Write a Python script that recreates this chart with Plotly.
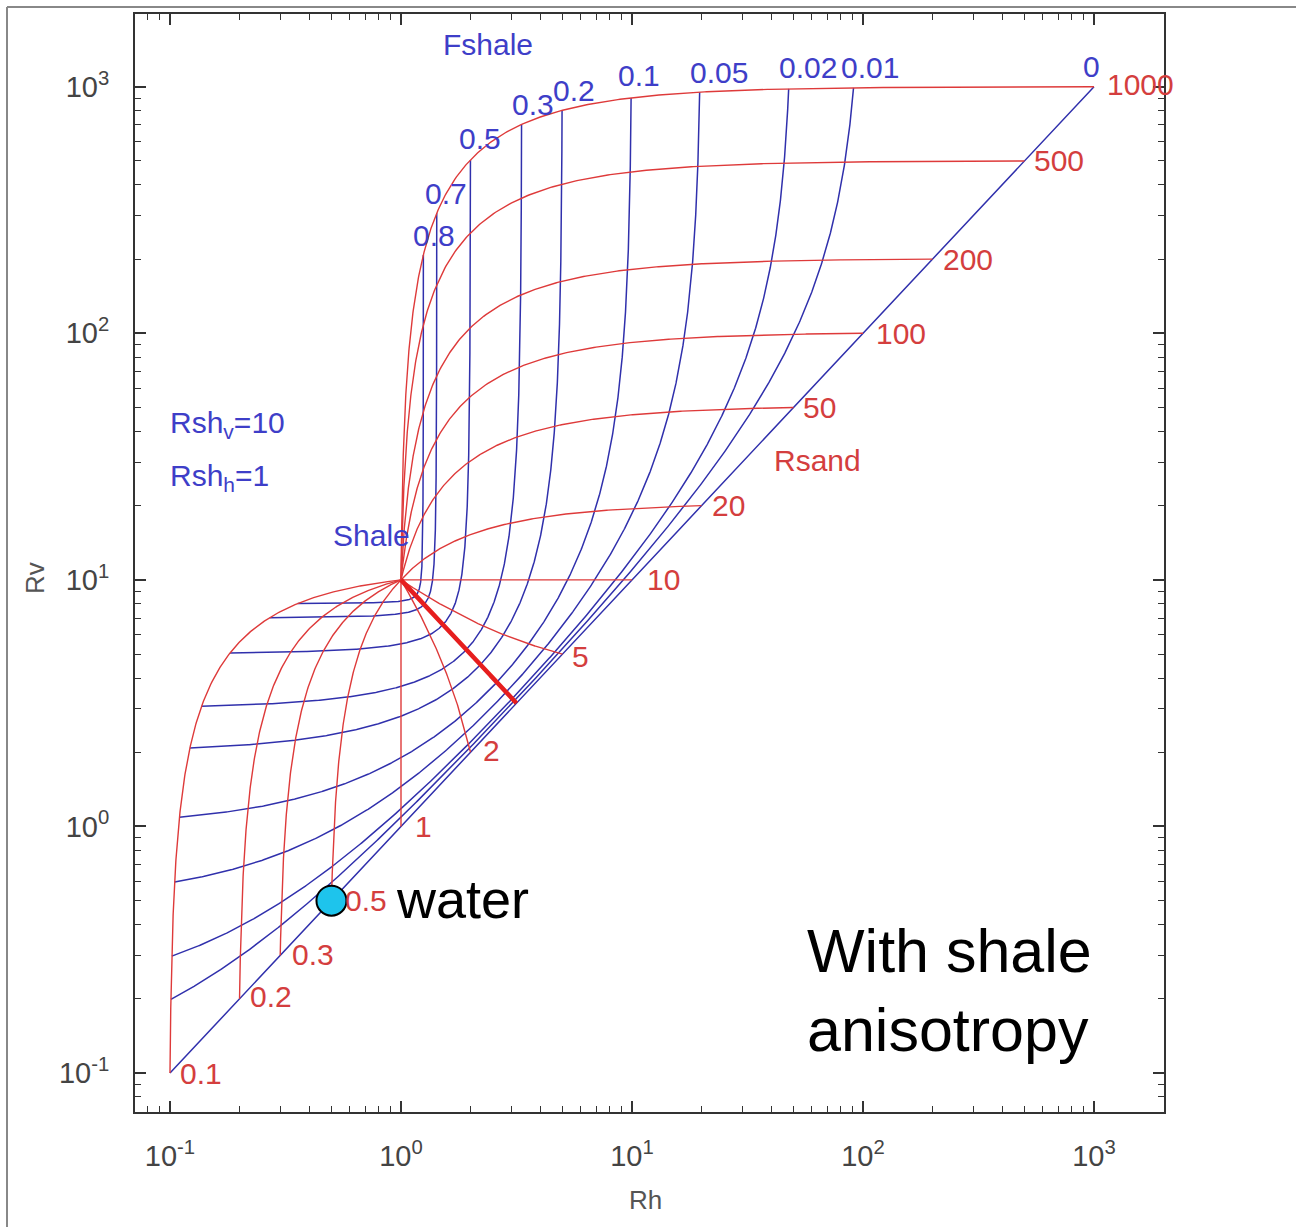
import numpy as np
import plotly.graph_objects as go

# ---------------- data (laminated sand/shale model parameters) ----------------
RSH_V = 10.0          # vertical shale resistivity
RSH_H = 1.0           # horizontal shale resistivity
FSHALE = [0, 0.01, 0.02, 0.05, 0.1, 0.2, 0.3, 0.5, 0.7, 0.8]
FSHALE_LABELS = ["0", "0.01", "0.02", "0.05", "0.1", "0.2", "0.3", "0.5", "0.7", "0.8"]
RSAND = [0.1, 0.2, 0.3, 0.5, 1, 2, 5, 10, 20, 50, 100, 200, 500, 1000]
RSAND_LABELS = ["0.1", "0.2", "0.3", "0.5", "1", "2", "5", "10", "20", "50", "100", "200", "500", "1000"]
RSAND_BOLD = 3.162    # sqrt(Rsh_v * Rsh_h) curve, drawn thick
WATER_RH = [0.5]
WATER_RV = [0.5]
XTICK_VALS = [0.1, 1, 10, 100, 1000]
XTICK_TEXT = ["10<sup>-1</sup>", "10<sup>0</sup>", "10<sup>1</sup>", "10<sup>2</sup>", "10<sup>3</sup>"]
YTICK_VALS = [0.1, 1, 10, 100, 1000]
YTICK_TEXT = ["10<sup>-1</sup>", "10<sup>0</sup>", "10<sup>1</sup>", "10<sup>2</sup>", "10<sup>3</sup>"]

# label offsets (pixels) relative to curve ends
FSH_DX = [-3, 16, 19, 19, 8, 12, 11, 10, 9, 11]
FSH_DY = [20, 20, 21, 20, 22, 20, 20, 21, 20, 19]
RS_DX = [8, 8, 10, 12, 12, 10, 8, 13, 8, 8, 11, 8, 8, 11]
RS_DY = [0, 2, 1, 0, 0, 2, -2, 0, 0, 0, 0, 0, 0, 2]


def rh(f, rs):
    return 1.0 / (f / RSH_H + (1.0 - f) / rs)


def rv(f, rs):
    return f * RSH_V + (1.0 - f) * rs


BLUE = "rgb(48,48,172)"
RED = "rgb(222,58,58)"
BLUE_T = "rgb(62,62,200)"
RED_T = "rgb(212,62,62)"

# plot-area geometry in pixels
W, H = 1296, 1227
L, R, T, B = 135, 1164, 14, 1112
XR = [-1.1515, 3.303]
YR = [-1.158, 3.295]


def px(xp):
    return (xp - L) / (R - L)


def py(yp):
    return (B - yp) / (B - T)


fig = go.Figure()

rs_samp = np.logspace(-1, 3, 800)
f_samp = np.unique(np.concatenate([[0.0, 1.0], np.logspace(-6, 0, 600), 1 - np.logspace(-6, 0, 600)]))
f_samp = f_samp[(f_samp >= 0) & (f_samp <= 1)]

# constant Fshale curves (blue)
for f in FSHALE:
    fig.add_trace(go.Scatter(x=rh(f, rs_samp), y=rv(f, rs_samp), mode="lines",
                             line=dict(color=BLUE, width=1.5), hoverinfo="skip"))

# constant Rsand curves (red)
for rs in RSAND:
    fig.add_trace(go.Scatter(x=rh(f_samp, rs), y=rv(f_samp, rs), mode="lines",
                             line=dict(color=RED, width=1.4), hoverinfo="skip"))

fig.add_trace(go.Scatter(x=rh(f_samp, RSAND_BOLD), y=rv(f_samp, RSAND_BOLD), mode="lines",
                         line=dict(color="rgb(230,30,30)", width=4.5), hoverinfo="skip"))

# water point
fig.add_trace(go.Scatter(x=WATER_RH, y=WATER_RV, mode="markers",
                         marker=dict(size=30, color="rgb(30,196,236)", line=dict(color="black", width=2)),
                         hoverinfo="skip"))

ann = []
FONT = "Liberation Sans, Arial, sans-serif"
lab_font = dict(family=FONT, size=30)

# Fshale labels at top of the blue curves
rs_top = max(RSAND)
for f, lab, dx, dy in zip(FSHALE, FSHALE_LABELS, FSH_DX, FSH_DY):
    ann.append(dict(x=np.log10(rh(f, rs_top)), y=np.log10(rv(f, rs_top)), xref="x", yref="y",
                    text=lab, showarrow=False, xanchor="center", yanchor="middle",
                    xshift=dx, yshift=dy, font=dict(lab_font, color=BLUE_T)))

# Rsand labels at the clean-sand line
for rs, lab, dx, dy in zip(RSAND, RSAND_LABELS, RS_DX, RS_DY):
    ann.append(dict(x=np.log10(rs), y=np.log10(rs), xref="x", yref="y",
                    text=lab, showarrow=False, xanchor="left", yanchor="middle",
                    xshift=dx, yshift=dy, font=dict(lab_font, color=RED_T)))

# free text
ann.append(dict(x=px(488), y=py(44), xref="paper", yref="paper", text="Fshale", showarrow=False,
                xanchor="center", yanchor="middle", font=dict(lab_font, color=BLUE_T)))
ann.append(dict(x=px(817), y=py(460), xref="paper", yref="paper", text="Rsand", showarrow=False,
                xanchor="center", yanchor="middle", font=dict(lab_font, color=RED_T)))
ann.append(dict(x=px(371), y=py(535), xref="paper", yref="paper", text="Shale", showarrow=False,
                xanchor="center", yanchor="middle", font=dict(lab_font, color=BLUE_T)))
ann.append(dict(x=px(168), y=py(425), xref="paper", yref="paper", text="Rsh<sub>v</sub>=10", showarrow=False,
                xanchor="left", yanchor="middle", font=dict(lab_font, color=BLUE_T)))
ann.append(dict(x=px(168), y=py(477), xref="paper", yref="paper", text="Rsh<sub>h</sub>=1", showarrow=False,
                xanchor="left", yanchor="middle", font=dict(lab_font, color=BLUE_T)))
ann.append(dict(x=px(394), y=py(899), xref="paper", yref="paper", text="water", showarrow=False,
                xanchor="left", yanchor="middle",
                font=dict(family=FONT, size=54, color="black")))
ann.append(dict(x=px(805), y=py(990), xref="paper", yref="paper", text="With shale<br>anisotropy",
                showarrow=False, xanchor="left", yanchor="middle", align="left",
                font=dict(family=FONT, size=61, color="black")))
# axis titles
ann.append(dict(x=px(645), y=py(1200), xref="paper", yref="paper", text="Rh", showarrow=False,
                xanchor="center", yanchor="middle",
                font=dict(family=FONT, size=26, color="#555")))
ann.append(dict(x=px(35), y=py(578), xref="paper", yref="paper", text="Rv", showarrow=False,
                xanchor="center", yanchor="middle", textangle=-90,
                font=dict(family=FONT, size=26, color="#555")))


def minor_vals(lo, hi):
    vals = []
    for d in range(-2, 4):
        for m in range(2, 10):
            v = m * 10.0 ** d
            if lo <= np.log10(v) <= hi:
                vals.append(v)
    return vals


axis_common = dict(type="log", showgrid=False, zeroline=False, showline=True, linecolor="#333",
                   linewidth=2, mirror="ticks", ticks="inside", ticklen=11, tickwidth=1.5,
                   tickcolor="#333", tickfont=dict(family=FONT, size=29, color="#444"))

fig.update_layout(
    width=W, height=H,
    margin=dict(l=L, r=W - R, t=T, b=H - B, pad=0),
    paper_bgcolor="white", plot_bgcolor="white", showlegend=False,
    xaxis=dict(axis_common, range=XR, tickvals=XTICK_VALS, ticktext=XTICK_TEXT, ticklabelstandoff=17,
               minor=dict(tickvals=minor_vals(*XR), ticks="inside", ticklen=6, tickwidth=1.3, tickcolor="#333")),
    yaxis=dict(axis_common, range=YR, tickvals=YTICK_VALS, ticktext=YTICK_TEXT, ticklabelstandoff=18,
               minor=dict(tickvals=minor_vals(*YR), ticks="inside", ticklen=6, tickwidth=1.3, tickcolor="#333")),
    annotations=ann,
    shapes=[
        dict(type="line", xref="paper", yref="paper", x0=px(7), x1=px(7), y0=py(W + 10), y1=py(7),
             line=dict(color="#888", width=2)),
        dict(type="line", xref="paper", yref="paper", x0=px(7), x1=px(W + 10), y0=py(7), y1=py(7),
             line=dict(color="#888", width=2)),
    ],
)

fig.write_html("out.html", post_script="document.body.style.margin='0px';",
               config={"displayModeBar": False})
